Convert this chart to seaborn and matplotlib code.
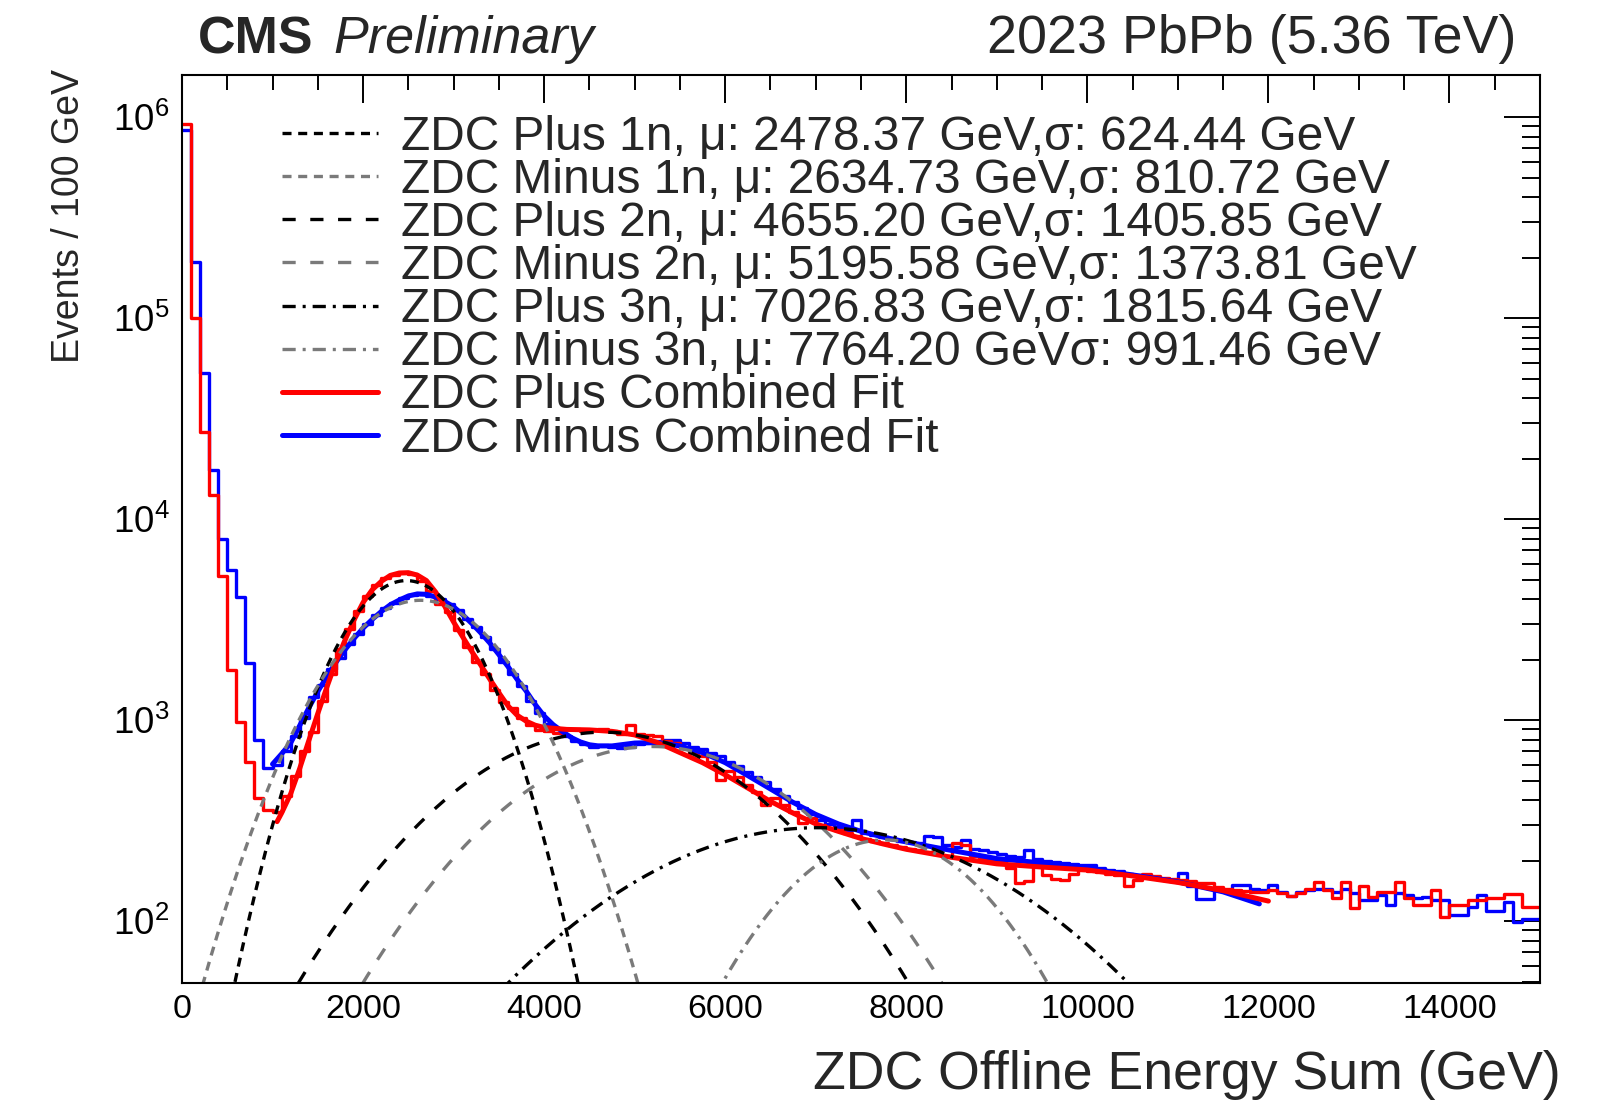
import numpy as np
import pandas as pd
import matplotlib
matplotlib.use("Agg")
import matplotlib.pyplot as plt
import seaborn as sns
from matplotlib.lines import Line2D
from matplotlib.ticker import MultipleLocator, LogLocator, LogFormatterSciNotation, NullFormatter

# ---------------- data ----------------
bin_width = 100            # GeV
bin_range = (0, 15000)     # GeV

plus_counts = [
    920000, 100000, 27300, 13200, 5200, 1770, 985, 620, 410, 358,
    350, 420, 530, 700, 870, 1250, 1700, 2250, 2850, 3500,
    4150, 4700, 5100, 5300, 5400, 5350, 4900, 4400, 3800, 3450,
    2800, 2300, 1950, 1700, 1420, 1230, 1150, 1020, 950, 890,
    880, 860, 900, 900, 880, 895, 900, 880, 850, 945,
    850, 840, 830, 790, 770, 730, 690, 660, 620, 505,
    560, 520, 475, 440, 380, 410, 380, 350, 307, 325,
    300, 290, 285, 275, 265, 258, 250, 245, 240, 235,
    230, 226, 222, 215, 212, 245, 240, 210, 205, 200,
    198, 184, 155, 158, 195, 170, 162, 160, 172, 180,
    178, 175, 172, 170, 150, 160, 172, 168, 165, 162,
    160, 158, 155, 155, 148, 145, 143, 142, 140, 140,
    143, 138, 133, 138, 145, 156, 143, 130, 157, 117,
    149, 132, 140, 140, 157, 130, 121, 121, 143, 105,
    121, 121, 128, 128, 130, 130, 137, 137, 118, 118,
]

minus_counts = [
    860000, 191000, 53200, 17500, 8000, 5600, 4090, 1920, 800, 577,
    600, 700, 830, 1020, 1300, 1500, 1800, 2050, 2400, 2700,
    3000, 3350, 3600, 3850, 4050, 4200, 4250, 4150, 4000, 3800,
    3550, 3200, 2900, 2600, 2250, 1950, 1700, 1480, 1250, 1080,
    960, 900, 830, 790, 760, 740, 750, 735, 728, 740,
    760, 770, 785, 800, 795, 770, 740, 720, 690, 660,
    620, 590, 555, 520, 490, 455, 420, 390, 365, 340,
    320, 305, 295, 285, 319, 275, 268, 262, 258, 252,
    248, 245, 264, 262, 240, 235, 254, 230, 225, 222,
    215, 212, 208, 226, 205, 200, 198, 195, 192, 190,
    190, 185, 180, 178, 172, 170, 168, 165, 162, 160,
    173, 150, 129, 129, 145, 143, 152, 151, 145, 143,
    151, 140, 133, 140, 143, 145, 145, 140, 145, 138,
    128, 128, 135, 121, 138, 135, 130, 132, 128, 128,
    107, 107, 118, 135, 112, 112, 125, 99, 103, 103,
]

plus_fit_e = [1050, 1100, 1200, 1300, 1400, 1500, 1600, 1700, 1800, 1900,
              2000, 2100, 2200, 2300, 2400, 2500, 2600, 2700, 2800, 2900,
              3000, 3100, 3200, 3300, 3400, 3500, 3600, 3700, 3800, 3900,
              4000, 4250, 4500, 4750, 5000, 5250, 5500, 5750, 6000, 6250,
              6500, 6750, 7000, 7250, 7500, 7750, 8000, 8500, 9000, 9500,
              10000, 10500, 11000, 11500, 12000]
plus_fit_v = [313, 345, 430, 575, 790, 1080, 1460, 1950, 2500, 3150,
              3850, 4450, 4900, 5250, 5400, 5420, 5270, 4950, 4350, 3700,
              3080, 2600, 2200, 1880, 1600, 1370, 1180, 1060, 990, 945,
              920, 900, 895, 880, 845, 775, 690, 615, 535, 460,
              395, 345, 305, 280, 258, 242, 228, 208, 193, 186,
              180, 168, 156, 142, 126]

minus_fit_e = [1000, 1100, 1200, 1300, 1400, 1500, 1600, 1700, 1800, 1900,
               2000, 2100, 2200, 2300, 2400, 2500, 2600, 2700, 2800, 2900,
               3000, 3100, 3200, 3300, 3400, 3500, 3600, 3700, 3800, 3900,
               4000, 4100, 4200, 4300, 4400, 4500, 4600, 4750, 5000, 5250,
               5500, 5750, 6000, 6250, 6500, 6750, 7000, 7250, 7500, 7750,
               8000, 8500, 9000, 9500, 10000, 10500, 11000, 11500, 11900]
minus_fit_v = [605, 680, 770, 940, 1150, 1390, 1650, 1940, 2240, 2550,
               2870, 3170, 3470, 3750, 3960, 4150, 4250, 4230, 4100, 3900,
               3670, 3350, 3030, 2720, 2420, 2120, 1850, 1600, 1400, 1200,
               1050, 950, 880, 820, 780, 755, 745, 745, 770, 775,
               745, 690, 615, 530, 455, 390, 340, 305, 280, 262,
               248, 225, 205, 195, 183, 170, 157, 140, 122]

# Gaussian components: mu / sigma from the legend, peak heights
comp_labels = [
    "ZDC Plus 1n, \u03bc: 2478.37 GeV,\u03c3: 624.44 GeV",
    "ZDC Minus 1n, \u03bc: 2634.73 GeV,\u03c3: 810.72 GeV",
    "ZDC Plus 2n, \u03bc: 4655.20 GeV,\u03c3: 1405.85 GeV",
    "ZDC Minus 2n, \u03bc: 5195.58 GeV,\u03c3: 1373.81 GeV",
    "ZDC Plus 3n, \u03bc: 7026.83 GeV,\u03c3: 1815.64 GeV",
    "ZDC Minus 3n, \u03bc: 7764.20 GeV\u03c3: 991.46 GeV",
]
comp_mu = [2478.37, 2634.73, 4655.20, 5195.58, 7026.83, 7764.20]
comp_sigma = [624.44, 810.72, 1405.85, 1373.81, 1815.64, 991.46]
comp_peak = [4950, 3950, 872, 740, 292, 254]
fit_labels = ["ZDC Plus Combined Fit", "ZDC Minus Combined Fit"]

# ---------------- style ----------------
W, H = 1608, 1104
sns.set_theme(style="white")
plt.rcParams["font.family"] = ["Liberation Sans", "DejaVu Sans"]
plt.rcParams["mathtext.fontset"] = "custom"
plt.rcParams["mathtext.rm"] = "Liberation Sans"
plt.rcParams["mathtext.it"] = "Liberation Sans:italic"
plt.rcParams["mathtext.bf"] = "Liberation Sans:bold"
plt.rcParams["lines.scale_dashes"] = False
plt.rcParams["axes.edgecolor"] = "black"
plt.rcParams["axes.linewidth"] = 1.5

GRAY = "#7a7a7a"
comp_colors = ["black", GRAY, "black", GRAY, "black", GRAY]
dot = (0, (6.5, 4.8))
dash = (0, (9.5, 10.5))
dashdot = (0, (9.5, 5.0, 2.2, 5.0))
comp_styles = [dot, dot, dash, dash, dashdot, dashdot]

fig = plt.figure(figsize=(W / 100, H / 100), dpi=100)
ax = fig.add_axes([182 / W, 1 - 983 / H, (1540 - 182) / W, (983 - 75) / H])

centers = np.arange(bin_range[0] + bin_width / 2, bin_range[1], bin_width)
df_minus = pd.DataFrame({"E": centers, "N": np.asarray(minus_counts, dtype=float)})
df_plus = pd.DataFrame({"E": centers, "N": np.asarray(plus_counts, dtype=float)})

sns.histplot(data=df_minus, x="E", weights="N", binwidth=bin_width, binrange=bin_range,
             element="step", fill=False, color="#0000ff", linewidth=2.4, ax=ax)
sns.histplot(data=df_plus, x="E", weights="N", binwidth=bin_width, binrange=bin_range,
             element="step", fill=False, color="#ff0000", linewidth=2.4, ax=ax)

sns.lineplot(x=minus_fit_e, y=minus_fit_v, color="#0000ff", linewidth=3.6,
             sort=False, estimator=None, ax=ax)
sns.lineplot(x=plus_fit_e, y=plus_fit_v, color="#ff0000", linewidth=3.6,
             sort=False, estimator=None, ax=ax)

e_grid = np.linspace(0, 15000, 1201)
for mu, sg, pk, col, ls in zip(comp_mu, comp_sigma, comp_peak, comp_colors, comp_styles):
    curve = pk * np.exp(-0.5 * ((e_grid - mu) / sg) ** 2)
    sns.lineplot(x=e_grid, y=curve, color=col, linewidth=2.4, sort=False,
                 estimator=None, ax=ax)
    ax.lines[-1].set_linestyle(ls)

ax.set_yscale("log")
ax.set_xlim(0, 15000)
ax.set_ylim(49.3, 1.62e6)
ax.set_xlabel("")
ax.set_ylabel("")

# ticks (ROOT style: inside, on all four sides)
ax.xaxis.set_major_locator(MultipleLocator(2000))
ax.xaxis.set_minor_locator(MultipleLocator(500))
ax.yaxis.set_major_locator(LogLocator(base=10, numticks=12))
ax.yaxis.set_minor_locator(LogLocator(base=10, subs=np.arange(2, 10), numticks=12))
ax.yaxis.set_major_formatter(LogFormatterSciNotation())
ax.yaxis.set_minor_formatter(NullFormatter())
ax.tick_params(which="both", direction="in", top=True, right=True, width=1.4,
               colors="black")
ax.tick_params(axis="x", which="major", length=20, pad=8, labelsize=24.5)
ax.tick_params(axis="x", which="minor", length=11)
ax.tick_params(axis="y", which="major", length=26, pad=9, labelsize=26.5)
ax.tick_params(axis="y", which="minor", length=13)
for sp in ax.spines.values():
    sp.set_visible(True)
    sp.set_linewidth(1.5)
    sp.set_color("black")

# legend
handles = [Line2D([], [], color=c, linewidth=2.4, linestyle=s)
           for c, s in zip(comp_colors, comp_styles)]
handles += [Line2D([], [], color="#ff0000", linewidth=3.6),
            Line2D([], [], color="#0000ff", linewidth=3.6)]
ax.legend(handles, comp_labels + fit_labels, loc="upper left",
          bbox_to_anchor=(282 / W, 1 - 115 / H), bbox_transform=fig.transFigure,
          frameon=False, fontsize=34.5, handlelength=2.0, handletextpad=0.48,
          labelspacing=-0.04, borderpad=0, borderaxespad=0)

# titles / axis titles
fig.text(198 / W, 1 - 53 / H, "CMS", fontsize=37.5, fontweight="bold",
         ha="left", va="baseline")
fig.text(333 / W, 1 - 53 / H, "Preliminary", fontsize=37.5, fontstyle="italic",
         ha="left", va="baseline")
fig.text(1516 / W, 1 - 53 / H, "2023 PbPb (5.36 TeV)", fontsize=38.8,
         ha="right", va="baseline")
fig.text(1561 / W, 1 - 1089 / H, "ZDC Offline Energy Sum (GeV)", fontsize=38.6,
         ha="right", va="baseline")
fig.text(69 / W, 1 - 69 / H, "Events / 100 GeV", fontsize=27, rotation=90,
         ha="center", va="top")

fig.savefig("out.png", dpi=100)
